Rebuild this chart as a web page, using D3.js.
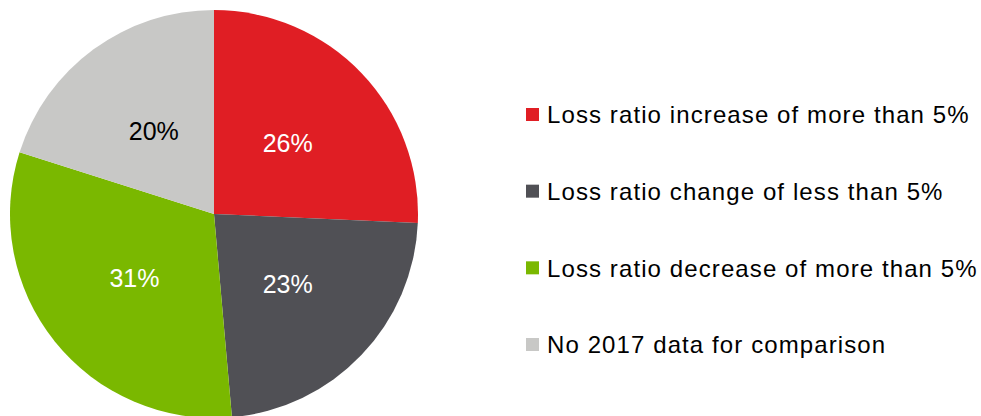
<!DOCTYPE html>
<html lang="en">
<head>
    <meta charset="UTF-8">
    <title>Loss ratio change</title>
    <script src="https://d3js.org/d3.v7.min.js"></script>
    <style>
        body {
            margin: 0;
            background: #ffffff;
            font-family: "Liberation Sans", Arial, sans-serif;
        }
        svg { display: block; }
    </style>
</head>
<body>
    <script>
        // chart data (shares, labels are rounded)
        const categories = [
            "Loss ratio increase of more than 5%",
            "Loss ratio change of less than 5%",
            "Loss ratio decrease of more than 5%",
            "No 2017 data for comparison"
        ];
        const shares = [25.7, 22.9, 31.3, 20.1];
        const colours = ["#e01e24", "#505055", "#7ab800", "#c8c8c6"];
        const labelColours = ["#ffffff", "#ffffff", "#ffffff", "#000000"];

        const width = 981, height = 416;
        const cx = 214, cy = 214, radius = 204;

        const svg = d3.select("body")
            .append("svg")
            .attr("width", width)
            .attr("height", height);

        const pie = d3.pie().sort(null).value(d => d);
        const arc = d3.arc().innerRadius(0).outerRadius(radius);

        const slices = svg.append("g")
            .attr("transform", `translate(${cx},${cy})`)
            .selectAll("g")
            .data(pie(shares))
            .enter()
            .append("g");

        slices.append("path")
            .attr("d", arc)
            .attr("fill", (d, i) => colours[i]);

        slices.append("text")
            .attr("transform", d => `translate(${arc.centroid(d)})`)
            .attr("text-anchor", "middle")
            .attr("dy", "0.35em")
            .attr("font-size", 25)
            .attr("fill", (d, i) => labelColours[i])
            .text(d => Math.round(d.data) + "%");

        // legend
        const legendY = d3.scalePoint()
            .domain(categories)
            .range([115, 345]);

        const legend = svg.append("g")
            .selectAll("g")
            .data(categories)
            .enter()
            .append("g")
            .attr("transform", d => `translate(526,${legendY(d)})`);

        legend.append("rect")
            .attr("x", 0)
            .attr("y", -7)
            .attr("width", 13)
            .attr("height", 13)
            .attr("fill", (d, i) => colours[i]);

        legend.append("text")
            .attr("x", 21)
            .attr("dy", "0.35em")
            .attr("font-size", 24)
            .attr("letter-spacing", 1.1)
            .attr("fill", "#000")
            .text(d => d);
    </script>
</body>
</html>
